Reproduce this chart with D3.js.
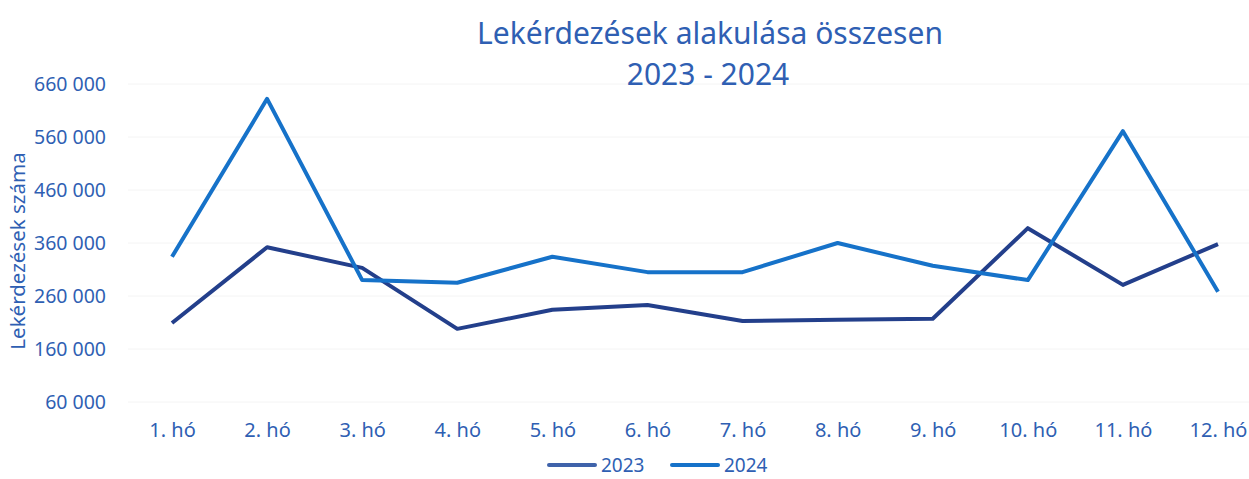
<!DOCTYPE html>
<html>
<head>
<meta charset="utf-8">
<script src="https://cdn.jsdelivr.net/npm/d3@7"></script>
<style>
  body { margin: 0; background: #fff; }
  text { font-family: "Noto Sans", sans-serif; fill: #2f5fb3; }
</style>
</head>
<body>
<div id="chart"></div>
<script>
const months = ["1. hó", "2. hó", "3. hó", "4. hó", "5. hó", "6. hó",
  "7. hó", "8. hó", "9. hó", "10. hó", "11. hó", "12. hó"];
const values2023 = [209000, 352000, 313000, 198000, 234000, 243000,
  213000, 215000, 217000, 388000, 281000, 358000];
const values2024 = [334000, 632000, 290000, 285000, 334000, 305000,
  305000, 360000, 317000, 290000, 571000, 268000];
const yTicks = [60000, 160000, 260000, 360000, 460000, 560000, 660000];

const width = 1249, height = 479;
const series = [
  { name: "2023", values: values2023, color: "#233f8b", legend: "#3f63aa" },
  { name: "2024", values: values2024, color: "#1672c9", legend: "#1672c9" },
];

const svg = d3.select("#chart").append("svg")
  .attr("width", width).attr("height", height);

const x = d3.scalePoint().domain(months).range([172, 1218]);
const y = d3.scaleLinear().domain([60000, 660000]).range([402, 84]);
const fmt = (d) => d3.format(",")(d).replace(/,/g, " ");

// faint gridlines
svg.append("g")
  .selectAll("line")
  .data(yTicks)
  .join("line")
  .attr("x1", 128).attr("x2", width)
  .attr("y1", (d) => y(d)).attr("y2", (d) => y(d))
  .attr("stroke", "#f4f4f4");

const yAxis = svg.append("g")
  .attr("transform", "translate(106,0)")
  .call(d3.axisLeft(y).tickValues(yTicks).tickFormat(fmt).tickSize(0).tickPadding(0));
yAxis.select(".domain").remove();
yAxis.selectAll("text").attr("font-size", 19.5).attr("fill", "#2f5fb3")
  .style("font-family", "Noto Sans");

const xAxis = svg.append("g")
  .attr("transform", "translate(0,423)")
  .call(d3.axisBottom(x).tickSize(0).tickPadding(0));
xAxis.select(".domain").remove();
xAxis.selectAll("text").attr("font-size", 20).attr("fill", "#2f5fb3")
  .style("font-family", "Noto Sans");

const line = d3.line()
  .x((d, i) => x(months[i]))
  .y((d) => y(d));

svg.append("g")
  .selectAll("path")
  .data(series)
  .join("path")
  .attr("d", (s) => line(s.values))
  .attr("fill", "none")
  .attr("stroke", (s) => s.color)
  .attr("stroke-width", 4)
  .attr("stroke-linejoin", "round");

// title
svg.append("text")
  .attr("x", 710).attr("y", 44)
  .attr("text-anchor", "middle")
  .attr("font-size", 30)
  .text("Lekérdezések alakulása összesen");
svg.append("text")
  .attr("x", 708).attr("y", 85)
  .attr("text-anchor", "middle")
  .attr("font-size", 30)
  .text("2023 - 2024");

// y axis title
svg.append("text")
  .attr("transform", "translate(25,251) rotate(-90)")
  .attr("text-anchor", "middle")
  .attr("font-size", 20.5)
  .text("Lekérdezések száma");

// legend
const legend = svg.append("g")
  .selectAll("g")
  .data(series)
  .join("g")
  .attr("transform", (d, i) => `translate(${547 + i * 123},465)`);
legend.append("line")
  .attr("x1", 2).attr("x2", 48)
  .attr("stroke", (d) => d.legend)
  .attr("stroke-width", 4)
  .attr("stroke-linecap", "round");
legend.append("text")
  .attr("x", 54).attr("dy", "0.35em")
  .attr("font-size", 19)
  .text((d) => d.name);
</script>
</body>
</html>
